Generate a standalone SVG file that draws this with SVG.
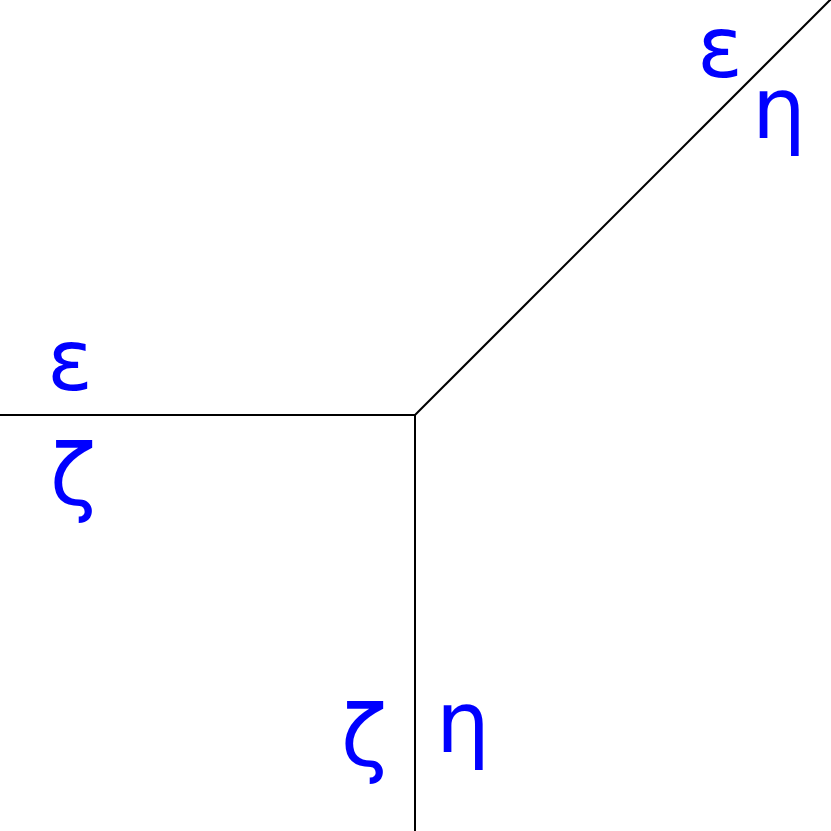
<svg xmlns="http://www.w3.org/2000/svg" width="831" height="831" viewBox="0 0 831 831">
<style>
.edge{stroke:#000;stroke-width:2;fill:none}
.lbl{font-family:"DejaVu Sans",sans-serif;font-size:85px;fill:#0000ff;text-anchor:middle}
</style>
<rect width="831" height="831" fill="#fff"/>
<g id="connectors">
<line class="edge" x1="0" y1="415" x2="415" y2="415"/>
<line class="edge" x1="415" y1="415" x2="415" y2="831"/>
<line class="edge" x1="415" y1="415" x2="831" y2="-1"/>
</g>
<g id="labels-left">
<text class="lbl" x="70" y="390">ε</text>
<text class="lbl" x="73" y="505">ζ</text>
</g>
<g id="labels-top">
<text class="lbl" x="720" y="77">ε</text>
<text class="lbl" x="779" y="138">η</text>
</g>
<g id="labels-bottom">
<text class="lbl" x="364" y="766">ζ</text>
<text class="lbl" x="463" y="752">η</text>
</g>
</svg>
